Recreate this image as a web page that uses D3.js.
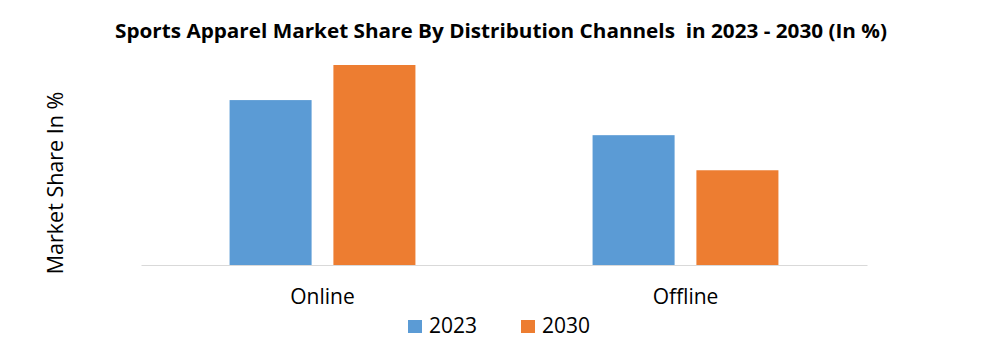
<!DOCTYPE html>
<html>
<head>
<meta charset="utf-8">
<script src="https://cdn.jsdelivr.net/npm/d3@7"></script>
<style>
  body { margin: 0; background: #fff; }
  text { font-family: "Open Sans", "Noto Sans", sans-serif; fill: #000; }
</style>
</head>
<body>
<svg id="chart"></svg>
<script>
const CHART_WIDTH = 1005;
const CHART_HEIGHT = 350;
const MARGIN = { left: 141, right: 138, top: 65, bottom: 85 };
const BASE_Y = CHART_HEIGHT - MARGIN.bottom;

const CATEGORIES = ["Online", "Offline"];
const YEARS = ["2023", "2030"];
const VALUES_2023 = [47, 37];
const VALUES_2030 = [57, 27];
const COLORS = ["#5b9bd5", "#ed7d31"];

const data = CATEGORIES.map((c, i) => ({ category: c, values: [VALUES_2023[i], VALUES_2030[i]] }));

const svg = d3.select('#chart')
    .attr("width", CHART_WIDTH)
    .attr("height", CHART_HEIGHT);

// title (double space kept as in the original)
svg.append("text")
    .attr("x", 501)
    .attr("y", 38)
    .attr("text-anchor", "middle")
    .attr("font-size", 19)
    .attr("font-weight", "bold")
    .attr("textLength", 772)
    .attr("lengthAdjust", "spacingAndGlyphs")
    .style("white-space", "pre")
    .text("Sports Apparel Market Share By Distribution Channels  in 2023 - 2030 (In %)");

const x0 = d3.scaleBand()
    .domain(CATEGORIES)
    .range([MARGIN.left, CHART_WIDTH - MARGIN.right])
    .paddingInner(0.488)
    .paddingOuter(0.244);

const x1 = d3.scaleBand()
    .domain(YEARS)
    .range([0, x0.bandwidth()])
    .paddingInner(0.21);

const y = d3.scaleLinear()
    .domain([0, d3.max(data, d => d3.max(d.values))])
    .range([BASE_Y, MARGIN.top]);

// bars
const groups = svg.append("g")
    .selectAll("g")
    .data(data)
    .join("g")
    .attr("transform", d => `translate(${x0(d.category)},0)`);

groups.selectAll("rect")
    .data(d => d.values.map((v, i) => ({ year: YEARS[i], value: v, idx: i })))
    .join("rect")
    .attr("x", d => x1(d.year))
    .attr("y", d => y(d.value))
    .attr("width", x1.bandwidth())
    .attr("height", d => BASE_Y - y(d.value))
    .attr("fill", d => COLORS[d.idx]);

// x axis
const xAxis = svg.append("g")
    .attr("transform", `translate(0,${BASE_Y})`)
    .call(d3.axisBottom(x0).tickSize(0).tickPadding(24).tickSizeOuter(0));
xAxis.select(".domain").attr("stroke", "#d9d9d9").attr("stroke-width", 1);
xAxis.selectAll("text")
    .attr("font-size", 21)
    .style("font-family", '"Open Sans", sans-serif');

// y axis title
svg.append("text")
    .attr("transform", `translate(63,183) rotate(-90)`)
    .attr("text-anchor", "middle")
    .attr("font-size", 21.5)
    .text("Market Share In %");

// legend
const legend = svg.append("g")
    .selectAll("g")
    .data(YEARS)
    .join("g")
    .attr("transform", (d, i) => `translate(${408 + i * 113},320)`);

legend.append("rect")
    .attr("width", 14)
    .attr("height", 13)
    .attr("fill", (d, i) => COLORS[i]);

legend.append("text")
    .attr("x", 21)
    .attr("y", 13)
    .attr("font-size", 21)
    .text(d => d);
</script>
</body>
</html>
